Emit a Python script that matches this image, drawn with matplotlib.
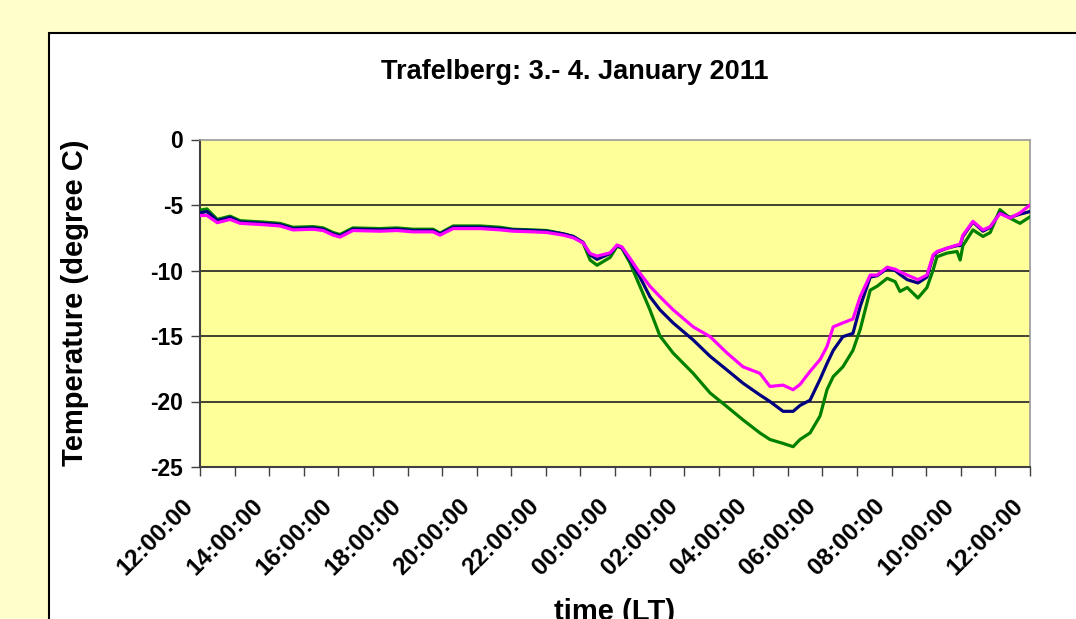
import matplotlib
matplotlib.use("Agg")
import matplotlib.pyplot as plt
from matplotlib.patches import Rectangle
from matplotlib.ticker import MultipleLocator, FixedLocator
from matplotlib.transforms import ScaledTranslation

plt.rcParams['font.family'] = ['Liberation Sans', 'DejaVu Sans']

# hours after 3 Jan 2011 12:00 LT
hours = [0.0, 0.2, 0.5, 0.87, 1.16, 1.82, 2.31, 2.69, 3.27, 3.56, 3.85, 4.05, 4.42,
         5.2, 5.7, 6.16, 6.74, 6.94, 7.32, 8.1, 8.68, 9.05, 9.63, 10.03, 10.5, 10.79,
         11.08, 11.28, 11.48, 11.86, 12.06, 12.2, 12.43, 12.72, 13.01, 13.3, 13.68,
         14.26, 14.75, 15.24, 15.7, 16.19, 16.48, 16.86, 17.15, 17.35, 17.64, 17.93,
         18.13, 18.31, 18.59, 18.88, 19.09, 19.38, 19.58, 19.87, 20.1, 20.24, 20.45,
         20.76, 21.02, 21.2, 21.31, 21.6, 21.89, 21.98, 22.06, 22.35, 22.64, 22.85,
         23.13, 23.42, 23.71, 24.0]

temp_magenta = [-5.8, -5.8, -6.35, -6.1, -6.4, -6.5, -6.6, -6.9, -6.85, -6.95, -7.3, -7.45, -6.95,
                -7.0, -6.95, -7.05, -7.05, -7.3, -6.8, -6.8, -6.9, -7.0, -7.05, -7.1, -7.3, -7.5,
                -7.9, -8.7, -8.9, -8.65, -8.05, -8.2, -9.05, -10.2, -11.2, -12.0, -13.0,
                -14.3, -15.05, -16.3, -17.35, -17.85, -18.85, -18.75, -19.1, -18.7, -17.7, -16.8,
                -15.8, -14.3, -14.0, -13.7, -12.0, -10.35, -10.35, -9.75, -9.9, -10.1, -10.35,
                -10.7, -10.35, -8.8, -8.55, -8.3, -8.05, -8.0, -7.3, -6.25, -6.9, -6.65,
                -5.65, -6.0, -5.6, -5.0]

temp_blue = [-5.6, -5.5, -6.2, -5.95, -6.3, -6.4, -6.5, -6.8, -6.75, -6.85, -7.2, -7.35, -6.85,
             -6.9, -6.85, -6.95, -6.95, -7.2, -6.7, -6.7, -6.8, -6.9, -6.95, -7.0, -7.2, -7.4,
             -7.85, -8.8, -9.15, -8.7, -8.1, -8.25, -9.2, -10.5, -12.0, -13.0, -14.0,
             -15.3, -16.55, -17.6, -18.6, -19.5, -20.0, -20.75, -20.75, -20.3, -19.9, -18.3,
             -17.1, -16.1, -15.05, -14.8, -12.75, -10.5, -10.4, -9.85, -10.0, -10.3, -10.7,
             -10.95, -10.5, -8.9, -8.6, -8.3, -8.1, -8.1, -7.4, -6.3, -7.0, -6.7,
             -5.6, -5.95, -5.7, -5.5]

temp_green = [-5.4, -5.3, -6.1, -5.85, -6.2, -6.3, -6.4, -6.7, -6.65, -6.75, -7.1, -7.25, -6.75,
              -6.8, -6.75, -6.85, -6.85, -7.15, -6.6, -6.6, -6.7, -6.85, -6.9, -6.95, -7.2, -7.4,
              -7.9, -9.2, -9.6, -9.0, -8.15, -8.3, -9.4, -11.2, -13.0, -15.0, -16.3,
              -17.85, -19.35, -20.4, -21.4, -22.4, -22.9, -23.2, -23.45, -22.9, -22.4, -21.1,
              -19.1, -18.1, -17.35, -16.1, -14.5, -11.5, -11.2, -10.6, -10.85, -11.6, -11.3,
              -12.1, -11.3, -9.95, -8.95, -8.67, -8.55, -9.2, -8.1, -6.9, -7.4, -7.1,
              -5.35, -6.0, -6.4, -5.9]

tick_hours = list(range(0, 25, 2))
tick_labels = ["12:00:00", "14:00:00", "16:00:00", "18:00:00", "20:00:00", "22:00:00",
               "00:00:00", "02:00:00", "04:00:00", "06:00:00", "08:00:00", "10:00:00",
               "12:00:00"]
y_ticks = [0, -5, -10, -15, -20, -25]

W, H = 1076, 619
fig = plt.figure(figsize=(W / 100, H / 100), dpi=100)
fig.patch.set_facecolor('#FFFFCC')

panel = Rectangle((49 / W, -0.1), 1.2, 1 - 33 / H + 0.1, transform=fig.transFigure,
                  facecolor='white', edgecolor='black', linewidth=1.5, zorder=-10)
fig.patches.append(panel)

ax = fig.add_axes([200 / W, 1 - 467 / H, 830 / W, (467 - 139.5) / H])
ax.set_zorder(5)
ax.set_facecolor('#FFFF99')

ax.plot(hours, temp_green, color='#008000', lw=2.3, zorder=3)
ax.plot(hours, temp_blue, color='#000080', lw=2.3, zorder=4)
ax.plot(hours, temp_magenta, color='#FF00FF', lw=2.3, zorder=5)

ax.set_xlim(0, 24)
ax.set_ylim(-25, 0)
ax.set_yticks(y_ticks)
ax.set_yticklabels([str(v) for v in y_ticks], fontsize=16.5, fontweight='bold')
ax.xaxis.set_major_locator(FixedLocator(tick_hours))
ax.xaxis.set_minor_locator(MultipleLocator(1))
ax.set_xticklabels(tick_labels, fontsize=17.5, fontweight='bold', rotation=45,
                   ha='right', va='top', rotation_mode='anchor')
ax.tick_params(axis='x', which='both', direction='out', length=6.5, width=1, color='#404040', pad=13)
ax.tick_params(axis='y', direction='out', length=6.5, width=1, color='#404040', pad=5.5)

shift = ScaledTranslation(-18 / 100, 0, fig.dpi_scale_trans)
for lab in ax.get_xticklabels():
    lab.set_transform(lab.get_transform() + shift)

for v in [-5, -10, -15, -20]:
    ax.axhline(v, color='#202020', lw=1.2, zorder=1)

for s in ['left', 'bottom']:
    ax.spines[s].set_color('#404040')
    ax.spines[s].set_linewidth(1.5)
for s in ['top', 'right']:
    ax.spines[s].set_color('#999999')
    ax.spines[s].set_linewidth(1.2)

fig.text(575 / W, 1 - 72 / H, "Trafelberg: 3.- 4. January 2011", fontsize=19.5,
         fontweight='bold', ha='center', va='center')
fig.text(75 / W, 1 - 303 / H, "Temperature (degree C)", fontsize=21, fontweight='bold',
         rotation=90, ha='center', va='center')
fig.text(615 / W, 1 - 612 / H, "time (LT)", fontsize=21, fontweight='bold',
         ha='center', va='center')

fig.savefig('out.png', dpi=100, facecolor=fig.get_facecolor())
